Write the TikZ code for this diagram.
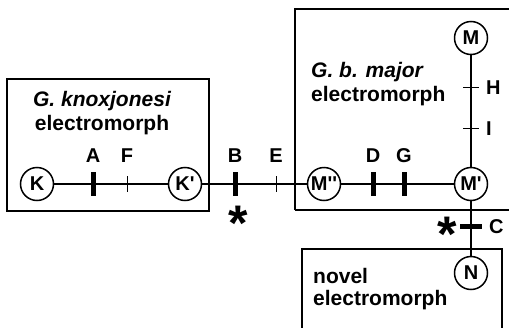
\documentclass[tikz,border=0pt]{standalone}
\usepackage{fontspec}
\setmainfont{Liberation Sans}[Ligatures=TeXOff]
\begin{document}
\begin{tikzpicture}[x=1pt,y=-1pt,
  st/.style={circle,draw,line width=1.5pt,minimum size=33pt,inner sep=0pt,font=\fontsize{20}{20}\selectfont\bfseries,fill=white},
  conn/.style={line width=2.6pt},
  bigtick/.style={line width=5pt},
  smalltick/.style={line width=1pt},
  lbl/.style={font=\fontsize{20}{20}\selectfont\bfseries,inner sep=0pt},
  box/.style={draw,line width=1.2pt},
  title/.style={font=\fontsize{21}{24}\selectfont\bfseries,inner sep=0pt},
  star/.style={font=\fontsize{50}{50}\selectfont\bfseries,inner sep=0pt}]
\useasboundingbox (0,0) rectangle (509,327);
% boxes
\draw[box] (7,79) rectangle (209,211);
\draw[box] (295,210) -- (295,9) -- (515,9);
\draw[box] (295,210) -- (515,210);
\draw[box] (302,335) -- (302,249) -- (502,249) -- (502,335);
% box titles
\node[title,anchor=base] (t1) at (102,106) {\itshape G. knoxjonesi};
\node[title,anchor=base] (t2) at (102,130) {electromorph};
\node[title,anchor=base west] (t3) at (311,77) {\itshape G. b. major};
\node[title,anchor=base west] (t4) at (311,101) {electromorph};
\node[title,anchor=base west] (t5) at (313,283) {novel};
\node[title,anchor=base west] (t6) at (313,305) {electromorph};
% states
\node[st] (K) at (37,184) {K};
\node[st] (Kp) at (185,184) {K'};
\node[st] (Mpp) at (324,184) {M''};
\node[st] (Mp) at (471,184) {M'};
\node[st] (M) at (471,38) {M};
\node[st] (N) at (471,273) {N};
% connectors
\draw[conn] (K) -- (Kp);
\draw[conn] (Kp) -- (Mpp);
\draw[conn] (Mpp) -- (Mp);
\draw[conn] (Mp) -- (M);
\draw[conn] (Mp) -- (N);
% ticks
\coordinate (tA) at (93,184);
\coordinate (tF) at (127,184);
\coordinate (tB) at (235,184);
\coordinate (tE) at (276,184);
\coordinate (tD) at (373,184);
\coordinate (tG) at (404,184);
\coordinate (tH) at (471,87);
\coordinate (tI) at (471,128);
\coordinate (tC) at (471,226);
\draw[bigtick] (tA) ++(0,-12) -- ++(0,24);
\draw[smalltick] (tF) ++(0,-8) -- ++(0,16);
\draw[bigtick] (tB) ++(0,-12) -- ++(0,24);
\draw[smalltick] (tE) ++(0,-8) -- ++(0,16);
\draw[bigtick] (tD) ++(0,-12) -- ++(0,24);
\draw[bigtick] (tG) ++(0,-12) -- ++(0,24);
\draw[smalltick] (tH) ++(-8,0) -- ++(16,0);
\draw[smalltick] (tI) ++(-8,0) -- ++(16,0);
\draw[bigtick] (tC) ++(-11,0) -- ++(22,0);
% tick labels
\node[lbl,anchor=base] (lA) at (93,162) {A};
\node[lbl,anchor=base] (lF) at (127,162) {F};
\node[lbl,anchor=base] (lB) at (235,162) {B};
\node[lbl,anchor=base] (lE) at (276,162) {E};
\node[lbl,anchor=base] (lD) at (373,162) {D};
\node[lbl,anchor=base] (lG) at (404,162) {G};
\node[lbl,anchor=base west] (lH) at (486,94) {H};
\node[lbl,anchor=base west] (lI) at (486,135) {I};
\node[lbl,anchor=base west] (lC) at (489,233) {C};
% asterisks
\node[star] (s1) at (238,223) {*};
\node[star] (s2) at (447,234) {*};
\end{tikzpicture}
\end{document}
